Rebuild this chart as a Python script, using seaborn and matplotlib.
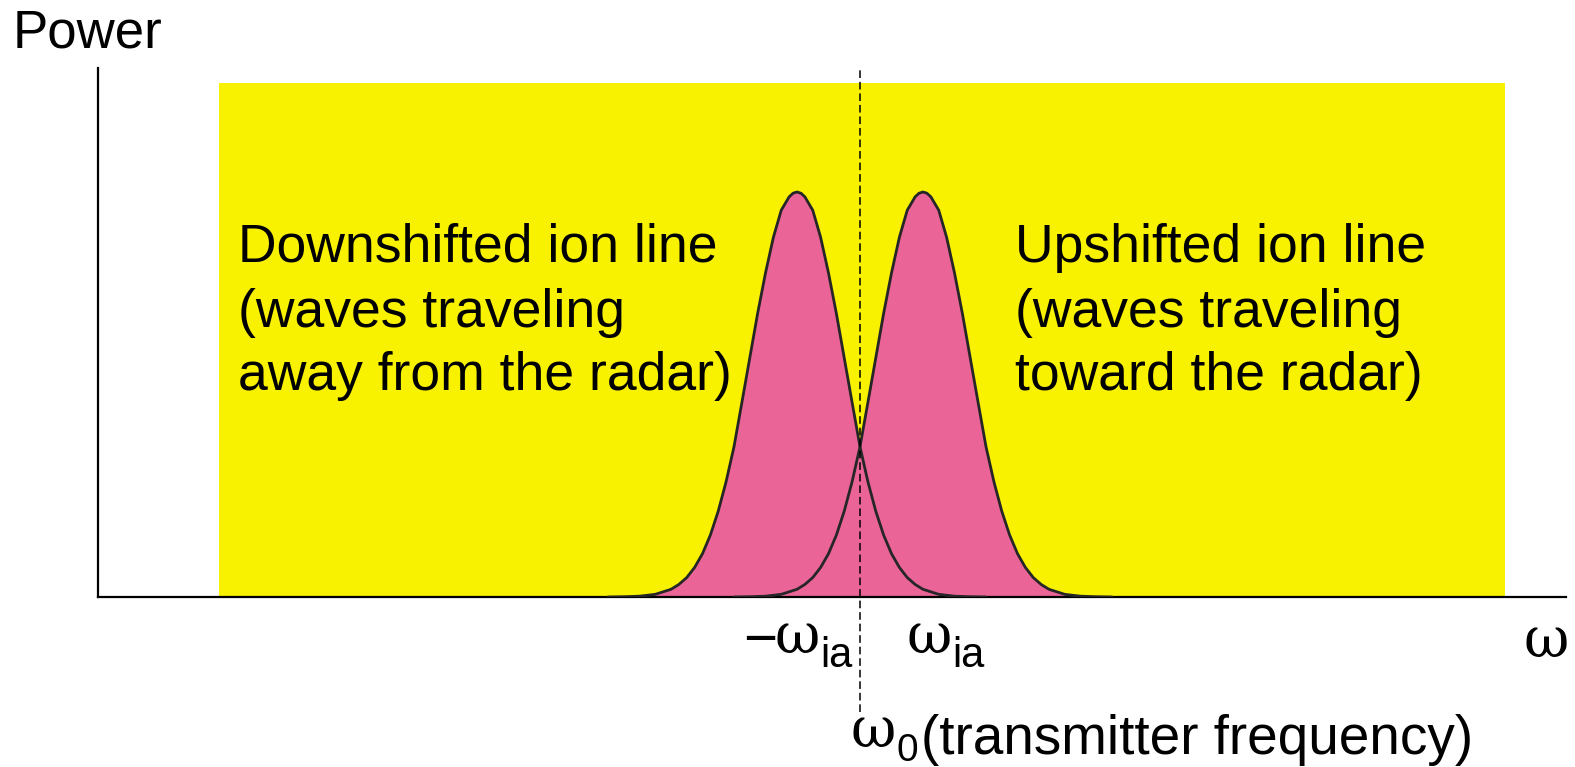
import numpy as np
import matplotlib
matplotlib.use("Agg")
import matplotlib.pyplot as plt
import seaborn as sns

# Frequency axis in units of the ion-acoustic frequency, centred on the transmitter frequency
line_centers = [-1.0, 1.0]            # downshifted / upshifted ion lines
# Half-profile of one ion line: offset from line centre and relative power
profile_offsets = [0.0, 0.0625, 0.125, 0.25, 0.375, 0.5, 0.625, 0.75, 0.875, 1.0, 1.125,
                   1.25, 1.375, 1.5, 1.625, 1.75, 1.875, 2.0, 2.25, 2.5, 2.75, 3.0]
profile_power = [1.000, 0.997, 0.988, 0.955, 0.888, 0.800, 0.700, 0.590, 0.480, 0.371, 0.285,
                 0.212, 0.153, 0.107, 0.073, 0.048, 0.031, 0.019, 0.0066, 0.0020, 0.0006, 0.0]

band_limits = [-10.17, 10.24]         # yellow spectral band
band_top = 1.27

block_left = ["Downshifted ion line", "(waves traveling", "away from the radar)"]
block_right = ["Upshifted ion line", "(waves traveling", "toward the radar)"]

sns.set_theme(style="white")
plt.rcParams["font.family"] = ["Liberation Sans", "DejaVu Sans"]
plt.rcParams["text.color"] = "black"
plt.rcParams["lines.scale_dashes"] = False

GREEK = ["DejaVu Serif"]
SANS = ["Liberation Sans", "DejaVu Sans"]

W, H, DPI = 1575, 767, 100
fig = plt.figure(figsize=(W / DPI, H / DPI), dpi=DPI)
fig.patch.set_facecolor("white")

# axes box in pixels: left spine x=98, bottom y=597, top y=68, right x=1566
ax = fig.add_axes([98 / W, (H - 597) / H, (1566 - 98) / W, (597 - 68) / H])
ax.set_facecolor("white")
px_per_unit_x = 63.0
px_per_unit_y = 405.0
ax.set_xlim((98 - 860) / px_per_unit_x, (1566 - 860) / px_per_unit_x)
ax.set_ylim(0, (597 - 68) / px_per_unit_y)

def ypix(p):
    return (597 - p) / px_per_unit_y

def xpix(p):
    return (p - 860) / px_per_unit_x

# yellow band
ax.fill_between(band_limits, [band_top, band_top], 0, color="#F8F100", linewidth=0, zorder=1)

off = np.array(profile_offsets)
pw = np.array(profile_power)
half_x = np.concatenate([-off[::-1], off[1:]])
half_y = np.concatenate([pw[::-1], pw[1:]])

lines = [(c + half_x, half_y) for c in line_centers]

grid = np.unique(np.concatenate([lx for lx, _ in lines]))
stack = np.vstack([np.interp(grid, lx, ly, left=0, right=0) for lx, ly in lines])
ax.fill_between(grid, stack.max(axis=0), 0, color="#EA6498", linewidth=0, zorder=2)

for lx, ly in lines:
    sns.lineplot(x=lx, y=ly, ax=ax, color="#262626", linewidth=2.0, zorder=3,
                 sort=False, estimator=None)

# transmitter frequency marker
ax.plot([0, 0], [ypix(712), ypix(68)],
        color="black", linewidth=1.1, linestyle=(0, (5.5, 2.8)),
        clip_on=False, zorder=4)

for s in ["top", "right"]:
    ax.spines[s].set_visible(False)
for s in ["left", "bottom"]:
    ax.spines[s].set_color("black")
    ax.spines[s].set_linewidth(1.6)
ax.set_xticks([])
ax.set_yticks([])
ax.set_xlabel("")
ax.set_ylabel("")

body_size = 38.5
baselines = [262, 327, 390]
for txt, b in zip(block_left, baselines):
    ax.text(xpix(238), ypix(b), txt, fontsize=body_size, color="black",
            ha="left", va="baseline", zorder=5)
for txt, b in zip(block_right, baselines):
    ax.text(xpix(1015), ypix(b), txt, fontsize=body_size, color="black",
            ha="left", va="baseline", zorder=5)

def label(xp, yp, s, family, size, ha="left"):
    ax.text(xpix(xp), ypix(yp), s, family=family, fontsize=size, color="black",
            ha=ha, va="baseline", clip_on=False, zorder=5)

omega_size = 40
sub_size = 30
# -omega_ia
label(777, 657, "\u2212", SANS, 42, ha="right")
label(774, 653, "\u03c9", GREEK, omega_size)
label(820, 667, "ia", SANS, sub_size)
# omega_ia
label(906, 653, "\u03c9", GREEK, omega_size)
label(952, 667, "ia", SANS, sub_size)
# axis symbol
label(1523, 657, "\u03c9", GREEK, omega_size)
# omega_0 (transmitter frequency)
label(850, 747, "\u03c9", GREEK, omega_size)
label(896, 761, "0", SANS, 28)
label(921, 754, "(transmitter frequency)", SANS, 39.5)

fig.text(13 / W, 1 - 47 / H, "Power", fontsize=38, color="black", ha="left", va="baseline")

fig.savefig("out.png", dpi=DPI, facecolor="white")
